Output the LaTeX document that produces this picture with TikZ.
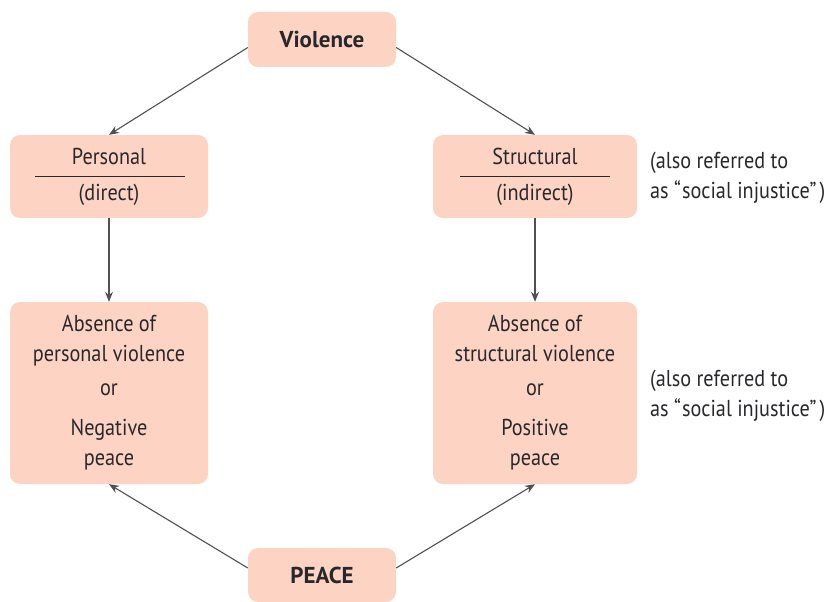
\documentclass[tikz,border=0pt]{standalone}
\usepackage{fontspec}
\setmainfont{PT Sans}[FakeStretch=0.88]
\newfontfamily\titlefont{PT Sans}
\usetikzlibrary{arrows.meta}

\definecolor{boxpink}{RGB}{253,212,196}
\definecolor{inkgray}{RGB}{40,40,44}
\definecolor{linkgray}{RGB}{80,80,84}

\begin{document}
\begin{tikzpicture}[x=1pt,y=-1pt,
		box/.style={fill=boxpink,rounded corners=10pt,align=center,text=inkgray,inner sep=0pt,
			font=\fontsize{23}{30}\selectfont},
		note/.style={anchor=west,align=left,text=inkgray,inner sep=0pt,
			font=\fontsize{23}{30}\selectfont},
		link/.style={-{Stealth[length=10pt,width=8pt]},draw=linkgray,line width=1.1pt}]

	\useasboundingbox (0,0) rectangle (835,602);

			% top and bottom
			\node[box,minimum width=148pt,minimum height=55pt] (vio) at (322,39.5) {\titlefont\bfseries Violence};
			\node[box,minimum width=148pt,minimum height=54pt] (peace) at (322,575) {\titlefont\bfseries PEACE};

			% kinds of violence
			\node[box,minimum width=198pt,minimum height=83pt] (pers) at (109,176.5) {Personal\\[6pt](direct)};
			\node[box,minimum width=204pt,minimum height=83pt] (struc) at (535,176.5) {Structural\\[6pt](indirect)};

			\draw[inkgray,line width=0.8pt] ([xshift=25pt]pers.west) -- ([xshift=-23pt]pers.east);
			\draw[inkgray,line width=0.8pt] ([xshift=27pt]struc.west) -- ([xshift=-27pt]struc.east);

			% kinds of peace
			\node[box,minimum width=198pt,minimum height=182pt] (absl) at (109,393)
				{Absence of\\personal violence\\[4pt]or\\[10pt]Negative\\peace};
			\node[box,minimum width=204pt,minimum height=182pt] (absr) at (535,393)
				{Absence of\\structural violence\\[4pt]or\\[10pt]Positive\\peace};

			\node[note] (note1) at (650,178) {(also referred to\\as “\kern1pt social injustice”\kern3pt)};
			\node[note] (note2) at (650,396) {(also referred to\\as “\kern1pt social injustice”\kern3pt)};

			\draw[link] ([yshift=-8pt]vio.west) -- (pers.north);
			\draw[link] ([yshift=-8pt]vio.east) -- (struc.north);

			\draw[link] (pers.south) -- (absl.north);
			\draw[link] (struc.south) -- (absr.north);

			\draw[link] ([yshift=7pt]peace.west) -- (absl.south);
			\draw[link] ([yshift=7pt]peace.east) -- (absr.south);

\end{tikzpicture}
\end{document}
